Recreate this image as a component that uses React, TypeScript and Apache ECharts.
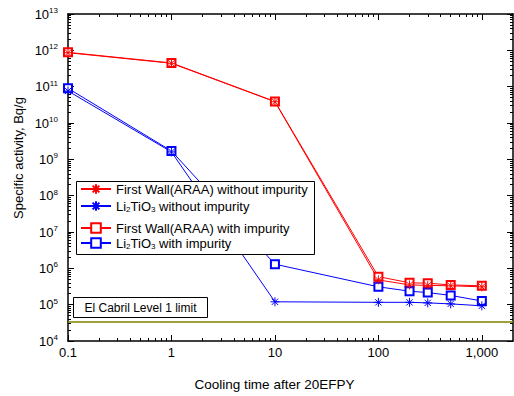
import React, { useEffect, useRef } from 'react';
import * as echarts from 'echarts';

const coolingTimes = [0.1, 1, 10, 100, 200, 300, 500, 1000];
const fwWithout = [8.6e11, 4.4e11, 3.85e10, 4.8e5, 3.5e5, 3.4e5, 3.3e5, 3.1e5];
const liWithout = [7.6e10, 1.6e9, 1.2e5, 1.16e5, 1.16e5, 1.12e5, 1.05e5, 9.3e4];
const fwWith = [8.8e11, 4.5e11, 3.9e10, 5.9e5, 4.0e5, 3.9e5, 3.5e5, 3.3e5];
const liWith = [9.0e10, 1.7e9, 1.3e6, 3.1e5, 2.35e5, 2.15e5, 1.8e5, 1.26e5];
const elCabrilLimit = 3.4e4;

const xMajorTicks = [0.1, 1, 10, 100, 1000];
const xMinorMult = [2, 3, 4, 5, 6, 7, 8, 9];
const yMajorTicks = [1e4, 1e5, 1e6, 1e7, 1e8, 1e9, 1e10, 1e11, 1e12, 1e13];

const names = {
  fwWithout: 'First Wall(ARAA) without impurity',
  liWithout: 'Li2TiO3 without impurity',
  fwWith: 'First Wall(ARAA) with impurity',
  liWith: 'Li2TiO3 with impurity',
};
const yTitle = 'Specific activity, Bq/g';
const xTitle = 'Cooling time after 20EFPY';

const FONT = 'Arial, "Liberation Sans", Helvetica, sans-serif';
const RED = '#ff0000';
const BLUE = '#0000ff';
const ASTERISK = 'path://M5,0L5,10M0,5L10,5M1.5,1.5L8.5,8.5M8.5,1.5L1.5,8.5';

function minorOf(majors: number[], max: number) {
  const out: number[] = [];
  majors.forEach((m) => xMinorMult.forEach((k) => { const v = m * k; if (v < max) out.push(v); }));
  return out;
}

function pairs(ys: number[]) {
  return coolingTimes.map((x, i) => [x, ys[i]]);
}

const legendFormatter = (name: string) =>
  name.replace('Li2TiO3', 'Li{sub|2}TiO{sub|3}');

export default function App() {
  const ref = useRef<HTMLDivElement>(null);
  useEffect(() => {
    const chart = echarts.init(ref.current!, null, { renderer: 'svg' });
    const xMin = 0.1, xMax = 2000, yMin = 1e4, yMax = 1e13;
    const xMinor = minorOf(xMajorTicks, xMax);
    const yMinor = minorOf(yMajorTicks, yMax);
    const axisLine = { show: true, onZero: false, lineStyle: { color: '#000', width: 1.5 } };
    const noLine = { show: false, onZero: false };
    const majorTick = (vals: number[]) => ({ show: true, inside: true, length: 6, customValues: vals, lineStyle: { color: '#000', width: 1 } });
    const minorTick = (vals: number[]) => ({ show: true, inside: true, length: 3, customValues: vals, lineStyle: { color: '#000', width: 1 } });
    const gridBox = { left: 68, right: 1, top: 14, bottom: 55, outerBoundsMode: 'none' };
    const lineSeries = (name: string, ys: number[], color: string, symbol: string) => ({
      name,
      type: 'line',
      data: pairs(ys),
      symbol,
      symbolSize: symbol === 'emptyRect' ? 8 : 9,
      lineStyle: { color, width: 1 },
      itemStyle: { color, borderColor: color, borderWidth: 1 },
      xAxisIndex: 0,
      yAxisIndex: 0,
      z: 2,
    });
    const legendBase = {
      orient: 'vertical',
      left: 80,
      padding: 0,
      itemWidth: 30,
      itemHeight: 12,
      formatter: legendFormatter,
      textStyle: {
        fontFamily: FONT, fontSize: 13, color: '#000', lineHeight: 14,
        rich: { sub: { fontFamily: FONT, fontSize: 8, color: '#000', verticalAlign: 'bottom', lineHeight: 8 } },
      },
      z: 10,
    };
    chart.setOption({
      animation: false,
      backgroundColor: '#fff',
      textStyle: { fontFamily: FONT },
      grid: [{ ...gridBox }, { ...gridBox }],
      xAxis: [
        {
          type: 'log', gridIndex: 0, position: 'bottom', min: xMin, max: xMax,
          axisLine, axisTick: majorTick(xMajorTicks), splitLine: { show: false },
          axisLabel: { customValues: xMajorTicks, fontSize: 13, color: '#000', margin: 5, fontFamily: FONT },
          name: xTitle, nameLocation: 'middle', nameGap: 36,
          nameTextStyle: { fontSize: 13.5, color: '#000', fontFamily: FONT, padding: [0, 32, 0, 0] },
        },
        {
          type: 'log', gridIndex: 0, position: 'top', min: xMin, max: xMax,
          axisLine, axisTick: majorTick(xMajorTicks), axisLabel: { show: false }, splitLine: { show: false },
        },
        {
          type: 'log', gridIndex: 1, position: 'bottom', min: xMin, max: xMax,
          axisLine: noLine, axisTick: minorTick(xMinor), axisLabel: { show: false }, splitLine: { show: false },
        },
        {
          type: 'log', gridIndex: 1, position: 'top', min: xMin, max: xMax,
          axisLine: noLine, axisTick: minorTick(xMinor), axisLabel: { show: false }, splitLine: { show: false },
        },
      ],
      yAxis: [
        {
          type: 'log', gridIndex: 0, position: 'left', min: yMin, max: yMax,
          axisLine, axisTick: majorTick(yMajorTicks), splitLine: { show: false },
          axisLabel: {
            customValues: yMajorTicks, margin: 10, color: '#000',
            formatter: (v: number) => `{b|10}{s|${Math.round(Math.log10(v))}}`,
            rich: {
              b: { fontSize: 13, color: '#000', fontFamily: FONT, lineHeight: 15 },
              s: { fontSize: 8, color: '#000', fontFamily: FONT, verticalAlign: 'top', lineHeight: 8 },
            },
          },
        },
        {
          type: 'log', gridIndex: 0, position: 'right', min: yMin, max: yMax,
          axisLine, axisTick: majorTick(yMajorTicks), axisLabel: { show: false }, splitLine: { show: false },
        },
        {
          type: 'log', gridIndex: 1, position: 'left', min: yMin, max: yMax,
          axisLine: noLine, axisTick: minorTick(yMinor), axisLabel: { show: false }, splitLine: { show: false },
        },
        {
          type: 'log', gridIndex: 1, position: 'right', min: yMin, max: yMax,
          axisLine: noLine, axisTick: minorTick(yMinor), axisLabel: { show: false }, splitLine: { show: false },
        },
      ],
      legend: [
        { ...legendBase, top: 182, itemGap: 3, data: [names.fwWithout, names.liWithout] },
        { ...legendBase, top: 221, itemGap: 1, data: [names.fwWith, names.liWith] },
      ],
      graphic: [
        {
          type: 'text', z: 9, x: 18, y: 158, rotation: Math.PI / 2,
          style: { text: yTitle, fill: '#000', font: `13px ${FONT}`, align: 'center', verticalAlign: 'middle' },
        },
        {
          type: 'rect', z: 8, shape: { x: 76.5, y: 181.5, width: 238, height: 73 },
          style: { fill: '#fff', stroke: '#000', lineWidth: 1 },
        },
        {
          type: 'rect', z: 8, shape: { x: 73.5, y: 297.5, width: 134, height: 20 },
          style: { fill: '#fff', stroke: '#000', lineWidth: 1 },
        },
        {
          type: 'text', z: 9, x: 140.5, y: 307.5,
          style: { text: 'El Cabril Level 1 limit', fill: '#000', font: `12px ${FONT}`, align: 'center', verticalAlign: 'middle' },
        },
      ],
      series: [
        lineSeries(names.fwWith, fwWith, RED, 'emptyRect'),
        lineSeries(names.liWith, liWith, BLUE, 'emptyRect'),
        lineSeries(names.fwWithout, fwWithout, RED, ASTERISK),
        {
          ...lineSeries(names.liWithout, liWithout, BLUE, ASTERISK),
          markLine: {
            silent: true, symbol: 'none', label: { show: false },
            lineStyle: { color: '#808000', width: 1.5, type: 'solid' },
            data: [{ yAxis: elCabrilLimit }],
          },
        },
      ],
    });
    return () => chart.dispose();
  }, []);
  return <div ref={ref} style={{ position: 'absolute', left: 0, top: 0, width: 514, height: 396 }} />;
}
